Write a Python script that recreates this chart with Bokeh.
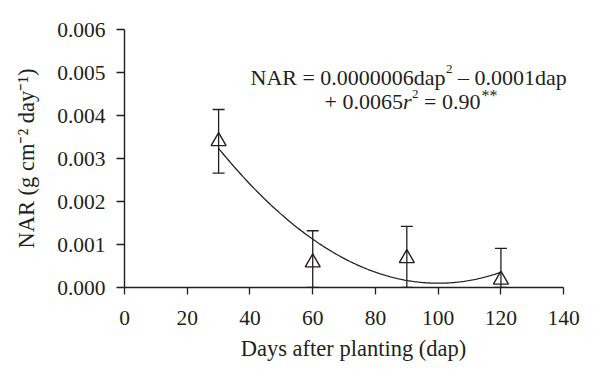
import numpy as np
from bokeh.plotting import figure
from bokeh.models import ColumnDataSource, Whisker, TeeHead, Label, FixedTicker, Range1d
from bokeh.embed import file_html
from bokeh.resources import INLINE

# Data
days = [30, 60, 90, 120]
nar = [0.00340, 0.00058, 0.00068, 0.00018]
nar_err = [0.00074, 0.00074, 0.00074, 0.00073]
# fitted quadratic trend (a*dap^2 + b*dap + c)
fit_coef = [0.00000064, -0.000128, 0.0065]
fit_range = [30, 120]
x_ticks = [0, 20, 40, 60, 80, 100, 120, 140]
y_ticks = [0.000, 0.001, 0.002, 0.003, 0.004, 0.005, 0.006]

INK = "#231f20"
FONT = "Liberation Serif"

# layout (pixels on the page)
LEFT, TOP, W, H = 124, 29, 584, 371
X_END = 146          # extra room on the right so the equation is not clipped
FRAME_W = 458
FRAME_H = 258

p = figure(width=W, height=H, output_backend="svg", toolbar_location=None,
           x_range=Range1d(0, X_END), y_range=Range1d(0, 0.006),
           min_border_left=LEFT, min_border_right=W - LEFT - FRAME_W,
           min_border_top=TOP, min_border_bottom=H - TOP - FRAME_H)
p.outline_line_color = None
p.grid.visible = False
p.background_fill_color = "white"

lower = [max(0.0, v - e) for v, e in zip(nar, nar_err)]
upper = [v + e for v, e in zip(nar, nar_err)]
src = ColumnDataSource(dict(x=days, y=nar, lower=lower, upper=upper))

w = Whisker(source=src, base="x", upper="upper", lower="lower",
            line_color=INK, line_width=1.3,
            upper_head=TeeHead(size=12, line_color=INK, line_width=1.3),
            lower_head=TeeHead(size=12, line_color=INK, line_width=1.3))
p.add_layout(w)

xs = np.linspace(fit_range[0], fit_range[1], 200)
ys = np.polyval(fit_coef, xs)
p.line(xs, ys, line_color=INK, line_width=1.3)

p.scatter("x", "y", source=src, marker="triangle", size=15, fill_alpha=0,
          line_color=INK, line_width=1.4)

for ax in (p.xaxis[0], p.yaxis[0]):
    ax.axis_line_color = INK
    ax.axis_line_width = 1.4
    ax.major_tick_line_color = INK
    ax.major_tick_line_width = 1.3
    ax.minor_tick_line_color = None
    ax.major_tick_in = 0
    ax.major_label_text_font = FONT
    ax.major_label_text_font_size = "21.5px"
    ax.major_label_text_color = INK
    ax.axis_label_text_font = FONT
    ax.axis_label_text_font_size = "22.5px"
    ax.axis_label_text_color = INK
    ax.axis_label_text_font_style = "normal"

p.xaxis.bounds = (0, 140)
p.xaxis.ticker = FixedTicker(ticks=x_ticks)
p.yaxis.ticker = FixedTicker(ticks=y_ticks)
p.xaxis.major_label_overrides = {t: str(t) for t in x_ticks}
p.yaxis.major_label_overrides = {t: f"{t:.3f}" for t in y_ticks}
p.xaxis.major_tick_out = 7
p.yaxis.major_tick_out = 8
p.xaxis.major_label_standoff = 16
p.yaxis.major_label_standoff = 11
p.xaxis.axis_label = "Days after planting (dap)"
p.yaxis.axis_label = "NAR (g cm\u207b\u00b2 day\u207b\u00b9)"
p.xaxis.axis_label_standoff = 8
p.yaxis.axis_label_standoff = 15

# equation, positioned in page pixels and converted to data units
sx = FRAME_W / X_END
sy = FRAME_H / 0.006
def dx(px):
    return (px - LEFT) / sx
def dy(py):
    return (TOP + FRAME_H - py) / sy

def piece(px, py, txt, size="22px", style="normal"):
    p.add_layout(Label(x=dx(px), y=dy(py), text=txt, text_font=FONT,
                       text_font_size=size, text_font_style=style, text_color=INK,
                       text_align="left", text_baseline="alphabetic"))

piece(250, 76.5, "NAR = 0.0000006dap")
piece(445.5, 68, "2", size="13px")
piece(457.5, 76.5, "\u2013 0.0001dap")
piece(324, 101.3, "+ 0.0065")
piece(402.4, 101.3, "r", style="italic")
piece(411.5, 93, "2", size="13px")
piece(423.5, 101.3, "= 0.90")
piece(481, 95, "**", size="16px")

open("out.html", "w").write(file_html(p, INLINE))
